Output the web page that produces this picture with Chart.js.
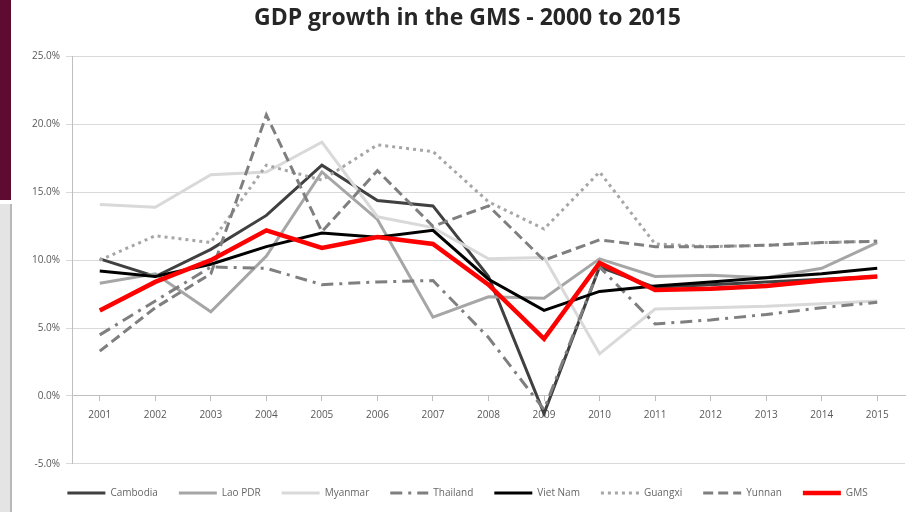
<!DOCTYPE html>
<html>
<head>
<meta charset="utf-8">
<title>GDP growth in the GMS</title>
<script src="https://cdn.jsdelivr.net/npm/chart.js@4/dist/chart.umd.min.js"></script>
<style>
    body { margin: 0; background: #fff; }
    #contenedor { position: absolute; left: 0; top: 0; width: 914px; height: 512px; }
    #barraTop { position: absolute; left: 0; top: 0; width: 11px; height: 200px; background: #5e0b32; }
    #barraBajo { position: absolute; left: 0; top: 204px; width: 10px; height: 308px; background: #e4e4e4; border-right: 2px solid #b9b9b9; }
</style>
</head>
<body>
<div id="contenedor">
    <canvas id="grafico" width="914" height="512"></canvas>
</div>
<div id="barraTop"></div>
<div id="barraBajo"></div>
<script>
const years = ['2001', '2002', '2003', '2004', '2005', '2006', '2007', '2008', '2009', '2010', '2011', '2012', '2013', '2014', '2015'];
const seriesNames = ['Cambodia', 'Lao PDR', 'Myanmar', 'Thailand', 'Viet Nam', 'Guangxi', 'Yunnan', 'GMS'];

// growth in %
const cambodia = [10.1, 8.8, 10.8, 13.3, 17.0, 14.4, 14.0, 8.8, -1.3, 9.5, 8.0, 8.2, 8.4, 8.6, 8.8];
const laoPdr = [8.3, 9.0, 6.2, 10.3, 16.5, 13.0, 5.8, 7.3, 7.2, 10.1, 8.8, 8.9, 8.7, 9.4, 11.3];
const myanmar = [14.1, 13.9, 16.3, 16.5, 18.7, 13.2, 12.4, 10.1, 10.2, 3.1, 6.4, 6.5, 6.6, 6.8, 7.0];
const thailand = [4.5, 7.0, 9.5, 9.4, 8.2, 8.4, 8.5, 4.3, -1.0, 9.5, 5.3, 5.6, 6.0, 6.5, 6.9];
const vietNam = [9.2, 8.8, 9.7, 11.0, 12.0, 11.7, 12.2, 8.6, 6.3, 7.7, 8.1, 8.4, 8.7, 9.0, 9.4];
const guangxi = [10.0, 11.8, 11.3, 17.0, 15.9, 18.5, 18.0, 14.3, 12.3, 16.5, 11.2, 11.0, 11.1, 11.3, 11.4];
const yunnan = [3.3, 6.5, 9.0, 20.7, 12.1, 16.6, 12.5, 14.0, 10.0, 11.5, 11.0, 11.0, 11.1, 11.3, 11.4];
const gms = [6.3, 8.4, 10.0, 12.2, 10.9, 11.7, 11.2, 8.2, 4.2, 9.8, 7.8, 7.9, 8.1, 8.5, 8.8];

const yTicks = [-5, 0, 5, 10, 15, 20, 25];

const valores = [cambodia, laoPdr, myanmar, thailand, vietNam, guangxi, yunnan, gms];
const colores = ['#404040', '#a6a6a6', '#d9d9d9', '#7f7f7f', '#000000', '#a6a6a6', '#7f7f7f', '#ff0000'];
const guiones = [[], [], [], [12, 6, 3, 6], [], [3, 4], [10, 5], []];
const grosores = [3, 3, 3, 3, 3, 3, 3, 4.5];

function construirDatasets() {
    return seriesNames.map((nombre, i) => ({
        label: nombre,
        data: valores[i],
        borderColor: colores[i],
        backgroundColor: colores[i],
        borderDash: guiones[i],
        borderWidth: grosores[i],
        pointRadius: 0,
        tension: 0,
        fill: false,
        order: seriesNames.length - i  // excel draws last series on top
    }));
}

// legend keeps the dash of each line
function etiquetasLeyenda(chart) {
    return chart.data.datasets.map((ds, i) => ({
        text: ds.label,
        fillStyle: ds.borderColor,
        strokeStyle: ds.borderColor,
        lineWidth: ds.borderWidth,
        lineDash: ds.borderDash,
        pointStyle: 'line',
        hidden: false,
        datasetIndex: i
    }));
}

const ctx = document.getElementById('grafico').getContext('2d');

const chart = new Chart(ctx, {
    type: 'line',
    data: {
        labels: years,
        datasets: construirDatasets()
    },
    options: {
        responsive: false,
        animation: false,
        // left padding only recentres title and legend, y axis fills the rest up to x=72
        layout: { padding: { left: 30, right: 9, top: 0, bottom: 4 } },
        plugins: {
            title: {
                display: true,
                text: 'GDP growth in the GMS - 2000 to 2015',
                color: '#262626',
                font: { family: 'Open Sans', size: 23, weight: 'bold' },
                padding: { top: 5, bottom: 24 }
            },
            legend: {
                position: 'bottom',
                title: { display: true, text: '', font: { size: 1 }, padding: 1 },
                labels: {
                    usePointStyle: true,
                    pointStyleWidth: 38,
                    boxHeight: 10,
                    padding: 21,
                    color: '#404040',
                    font: { family: 'Open Sans', size: 10 },
                    generateLabels: etiquetasLeyenda
                }
            },
            tooltip: { enabled: false }
        },
        scales: {
            x: {
                type: 'category',
                position: { y: 0 },
                offset: true,
                grid: {
                    display: true,
                    drawOnChartArea: false,
                    drawTicks: true,
                    tickLength: 5,
                    color: '#bfbfbf'
                },
                border: { display: true, color: '#bfbfbf' },
                ticks: {
                    color: '#595959',
                    font: { family: 'Open Sans', size: 10 },
                    maxRotation: 0,
                    padding: 8
                }
            },
            y: {
                min: -5,
                max: 25,
                afterBuildTicks: (scale) => { scale.ticks = yTicks.map(v => ({ value: v })); },
                afterFit: (scale) => { scale.width = 42; },
                grid: {
                    color: '#d9d9d9',
                    tickLength: 6
                },
                border: { display: true, color: '#bfbfbf' },
                ticks: {
                    color: '#595959',
                    font: { family: 'Open Sans', size: 10 },
                    padding: 6,
                    callback: (v) => v.toFixed(1) + '%'
                }
            }
        }
    }
});
</script>
</body>
</html>
